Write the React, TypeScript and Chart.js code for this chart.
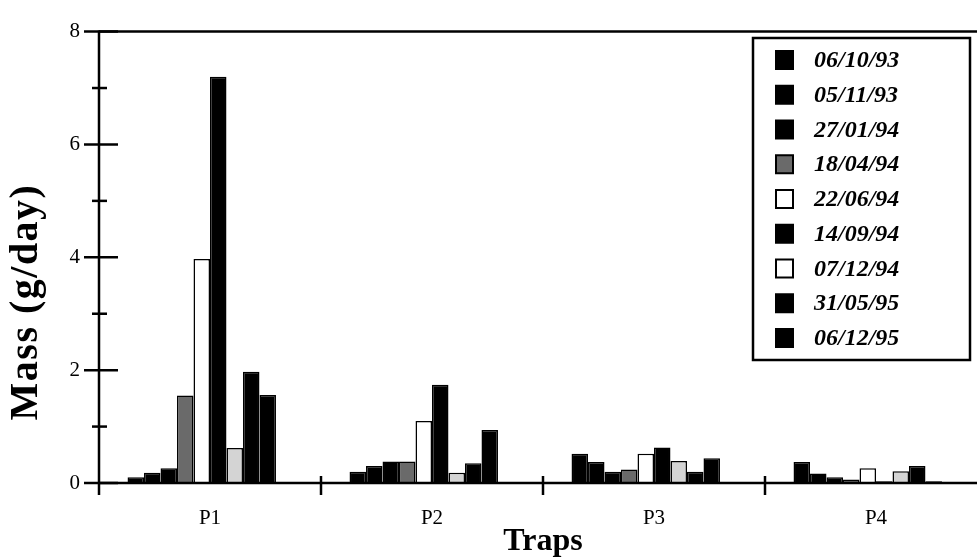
import React, { useEffect, useRef } from "react";
import { Chart, registerables } from "chart.js";

Chart.register(...registerables);

// ---- data ----
const categories = ["P1", "P2", "P3", "P4"];
const seriesLabels = [
  "06/10/93",
  "05/11/93",
  "27/01/94",
  "18/04/94",
  "22/06/94",
  "14/09/94",
  "07/12/94",
  "31/05/95",
  "06/12/95",
];
const s061093 = [0.1, 0.2, 0.52, 0.37];
const s051193 = [0.18, 0.3, 0.37, 0.17];
const s270194 = [0.26, 0.38, 0.2, 0.1];
const s180494 = [1.55, 0.38, 0.24, 0.06];
const s220694 = [3.97, 1.1, 0.52, 0.26];
const s140994 = [7.2, 1.74, 0.63, 0.03];
const s071294 = [0.62, 0.18, 0.39, 0.21];
const s310595 = [1.97, 0.35, 0.2, 0.3];
const s061295 = [1.56, 0.94, 0.44, 0.03];
const seriesValues = [s061093, s051193, s270194, s180494, s220694, s140994, s071294, s310595, s061295];
const yMajorTicks = [0, 2, 4, 6, 8];
const yMinorTicks = [1, 3, 5, 7];
const xTitle = "Traps";
const yTitle = "Mass (g/day)";

// ---- styles ----
const fills = ["#000", "#000", "#000", "#6a6a6a", "#fff", "#000", "#d4d4d4", "#000", "#000"];
const legendFills = ["#000", "#000", "#000", "#6a6a6a", "#fff", "#000", "#fff", "#000", "#000"];
const SERIF = "'Liberation Serif', 'DejaVu Serif', serif";

const axesPlugin = {
  id: "axesDraw",
  afterDatasetsDraw(chart: any) {
    const { ctx, chartArea, scales } = chart;
    const { left, right, top, bottom } = chartArea;
    const x = scales.x;
    const y = scales.y;
    const line = (x1: number, y1: number, x2: number, y2: number) => {
      ctx.beginPath();
      ctx.moveTo(x1, y1);
      ctx.lineTo(x2, y2);
      ctx.stroke();
    };
    ctx.save();
    ctx.strokeStyle = "#000";
    ctx.lineWidth = 2.5;
    line(left, top - 1, left, bottom + 12);
    line(left, bottom, right, bottom);
    line(left, top, chart.width, top);
    yMajorTicks.forEach((v) => {
      const py = y.getPixelForValue(v);
      line(left - 15, py, left + 19, py);
    });
    yMinorTicks.forEach((v) => {
      const py = y.getPixelForValue(v);
      line(left - 7, py, left + 8, py);
    });
    for (let i = 1; i <= categories.length; i++) {
      const px = x.getPixelForValue(i - 0.5);
      line(px, bottom - 7, px, bottom + 12);
    }
    ctx.restore();
  },
  afterDraw(chart: any) {
    const { ctx } = chart;
    // y-axis title
    ctx.save();
    ctx.translate(27, 302);
    ctx.rotate(-Math.PI / 2);
    ctx.font = `bold 40px ${SERIF}`;
    try {
      (ctx as any).letterSpacing = "1.5px";
    } catch (e) {}
    ctx.fillStyle = "#000";
    ctx.textAlign = "center";
    ctx.textBaseline = "middle";
    ctx.fillText(yTitle, 0, 0);
    ctx.restore();

    // legend
    const boxL = 753, boxT = 38, boxR = 970, boxB = 360;
    ctx.save();
    ctx.fillStyle = "#fff";
    ctx.fillRect(boxL, boxT, boxR - boxL, boxB - boxT);
    ctx.strokeStyle = "#000";
    ctx.lineWidth = 2.5;
    ctx.strokeRect(boxL, boxT, boxR - boxL, boxB - boxT);
    const items = chart.data.datasets.filter((d: any) => d.label);
    const first = 60, step = 34.75;
    ctx.font = `italic bold 24px ${SERIF}`;
    ctx.textBaseline = "middle";
    ctx.textAlign = "left";
    items.forEach((d: any, i: number) => {
      const cy = first + i * step;
      ctx.fillStyle = legendFills[i];
      ctx.fillRect(776, cy - 9, 17, 18);
      ctx.lineWidth = 2;
      ctx.strokeRect(776, cy - 9, 17, 18);
      ctx.fillStyle = "#000";
      ctx.fillText(d.label, 814, cy + 1);
    });
    ctx.restore();
  },
};

export default function App() {
  const ref = useRef<HTMLCanvasElement | null>(null);
  useEffect(() => {
    if (!ref.current) return;
    const datasets: any[] = seriesLabels.map((label, i) => ({
      label,
      data: seriesValues[i],
      backgroundColor: fills[i],
      borderColor: "#000",
      borderWidth: 1.5,
      barPercentage: 1,
      categoryPercentage: 0.743,
    }));
    // empty trailing slot keeps the group's offset as in the original layout
    datasets.push({
      label: "",
      data: categories.map(() => null),
      backgroundColor: "transparent",
      borderWidth: 0,
      barPercentage: 1,
      categoryPercentage: 0.743,
    });
    const chart = new Chart(ref.current, {
      type: "bar",
      data: { labels: categories, datasets },
      options: {
        responsive: false,
        animation: false,
        layout: { padding: { top: 23, right: 13, bottom: 0, left: 0 } },
        plugins: { legend: { display: false }, tooltip: { enabled: false } },
        scales: {
          x: {
            grid: { display: false, drawTicks: false },
            border: { display: false },
            ticks: { color: "#000", font: { family: SERIF, size: 21 }, padding: 23 },
            title: {
              display: true,
              text: xTitle,
              color: "#000",
              font: { family: SERIF, size: 32, weight: "bold", lineHeight: 1 },
              padding: { top: 0, bottom: 0 },
            },
            afterFit(scale: any) {
              scale.height = 75;
            },
          },
          y: {
            min: 0,
            max: 8,
            grid: { display: false, drawTicks: false },
            border: { display: false },
            ticks: {
              stepSize: 2,
              color: "#000",
              font: { family: SERIF, size: 21 },
              padding: 19,
            },
            afterFit(scale: any) {
              scale.width = 99;
            },
          },
        },
      },
      plugins: [axesPlugin],
    });
    return () => chart.destroy();
  }, []);
  return (
    <div style={{ position: "fixed", left: 0, top: 0, width: 977, height: 558, overflow: "hidden", background: "#fff" }}>
      <canvas ref={ref} width={1000} height={558} style={{ width: 1000, height: 558, display: "block" }} />
    </div>
  );
}
